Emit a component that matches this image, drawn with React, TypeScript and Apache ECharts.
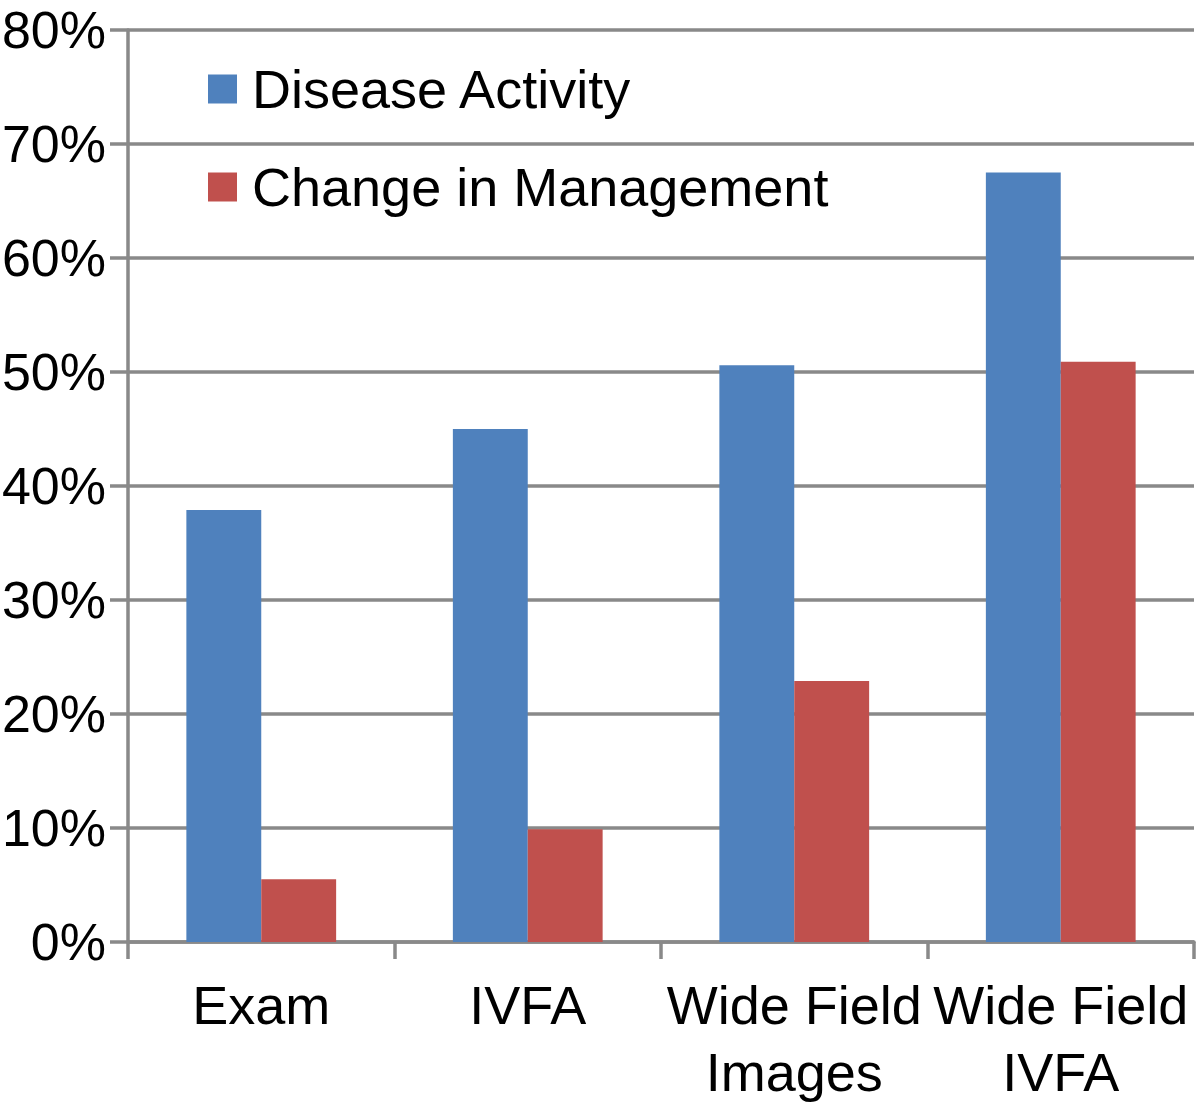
import React, { useEffect, useRef } from "react";
import * as echarts from "echarts";

const categories = ["Exam", "IVFA", "Wide Field\nImages", "Wide Field\nIVFA"];
const diseaseActivity = [37.9, 45.0, 50.6, 67.5];
const changeInManagement = [5.5, 9.9, 22.9, 50.9];
const seriesNames = ["Disease Activity", "Change in Management"];

const FONT = "'Liberation Sans', Arial, Helvetica, sans-serif";
const GRAY = "#898989";

export default function App() {
  const ref = useRef<HTMLDivElement>(null);
  useEffect(() => {
    document.body.style.margin = "0";
    const chart = echarts.init(ref.current!, null, { renderer: "svg" });
    chart.setOption({
      animation: false,
      textStyle: { fontFamily: FONT },
      grid: {
        left: 128,
        right: 6,
        top: 30,
        bottom: 166,
        containLabel: false,
        outerBoundsMode: "none",
      },
      legend: {
        orient: "vertical",
        left: 208,
        top: 62,
        padding: 0,
        itemWidth: 29,
        itemHeight: 29,
        itemGap: 44,
        icon: "rect",
        textStyle: {
          fontFamily: FONT,
          fontSize: 54,
          lineHeight: 54,
          color: "#000",
          padding: [0, 0, 0, 10],
        },
        data: seriesNames,
      },
      xAxis: {
        type: "category",
        data: categories,
        boundaryGap: true,
        axisLine: { show: true, lineStyle: { color: GRAY, width: 3.5 } },
        axisTick: { show: true, length: 17, lineStyle: { color: GRAY, width: 3.5 } },
        axisLabel: {
          interval: 0,
          margin: 29,
          fontSize: 54,
          lineHeight: 67,
          color: "#000",
          fontFamily: FONT,
        },
      },
      yAxis: {
        type: "value",
        min: 0,
        max: 80,
        interval: 10,
        axisLine: { show: true, lineStyle: { color: GRAY, width: 3.5 } },
        axisTick: { show: true, length: 18, lineStyle: { color: GRAY, width: 3.5 } },
        axisLabel: {
          formatter: "{value}%",
          margin: 22,
          fontSize: 52,
          color: "#000",
          fontFamily: FONT,
        },
        splitLine: { show: true, lineStyle: { color: GRAY, width: 3.5 } },
      },
      series: [
        {
          name: seriesNames[0],
          type: "bar",
          data: diseaseActivity,
          itemStyle: { color: "#4F81BD" },
          barGap: "0%",
          barCategoryGap: "43.8%",
        },
        {
          name: seriesNames[1],
          type: "bar",
          data: changeInManagement,
          itemStyle: { color: "#C0504D" },
          barGap: "0%",
          barCategoryGap: "43.8%",
        },
      ],
    });
    return () => chart.dispose();
  }, []);
  return <div ref={ref} style={{ width: 1200, height: 1108 }} />;
}
